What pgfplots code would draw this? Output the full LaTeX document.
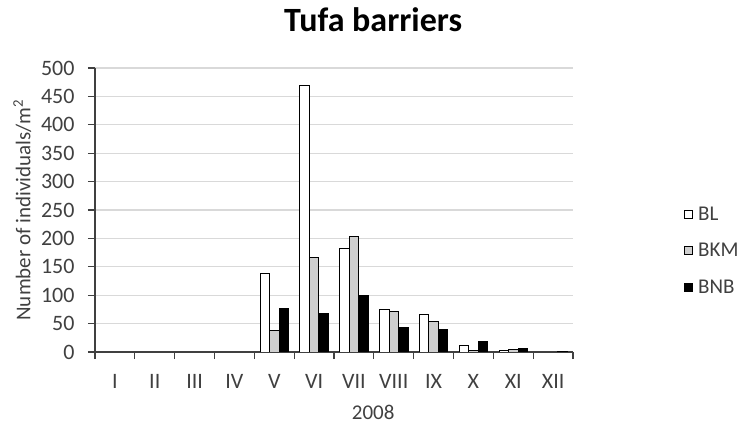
\documentclass[border=0pt]{standalone}
\usepackage{pgfplots}
\pgfplotsset{compat=1.18}
\usepackage{fontspec}
\setmainfont{Carlito}
\definecolor{txt}{HTML}{404040}
\definecolor{gridc}{HTML}{D9D9D9}
\definecolor{bkm}{HTML}{CFCFCF}
\begin{document}
\begin{tikzpicture}
\path[use as bounding box] (-95bp,-72bp) rectangle (649bp,352bp);
\begin{axis}[
  scale only axis,
  width=478bp, height=284bp,
  at={(0,0)}, anchor=south west,
  xmin=-0.5, xmax=11.5,
  ymin=0, ymax=500,
  ytick={0,50,...,500},
  xtick={-0.5,0.5,...,11.5},
  x tick label as interval,
  xticklabels={I,II,III,IV,V,VI,VII,VIII,IX,X,XI,XII},
  axis lines*=left,
  axis line style={draw=txt, line width=1.3pt},
  tick style={draw=txt, line width=1.1pt},
  major tick length=7bp,
  tick align=outside,
  ymajorgrids,
  grid style={draw=gridc, line width=1.3pt},
  /pgf/number format/assume math mode=true,
  ticklabel style={font=\fontsize{22bp}{26bp}\selectfont, text=txt},
  xticklabel style={yshift=-12bp},
  yticklabel style={xshift=-10bp},
  ybar=0pt,
  bar width=9.5bp,
  title={\textbf{Tufa barriers}},
  title style={font=\fontsize{34bp}{40bp}\selectfont, at={(axis description cs:0.582,1.148)}, anchor=center},
  xlabel={2008},
  xlabel style={font=\fontsize{21bp}{25bp}\selectfont, text=txt, at={(axis description cs:0.582,-0.212)}, anchor=center},
  ylabel={Number of individuals/m\textsuperscript{2}},
  ylabel style={font=\fontsize{21bp}{25bp}\selectfont, text=txt, at={(axis description cs:-0.152,0.5)}, anchor=center},
  legend style={draw=none, fill=none, font=\fontsize{21bp}{25bp}\selectfont, text=txt,
    at={(axis description cs:1.232,0.515)}, anchor=north west, inner sep=0pt,
    row sep=19.5bp, nodes={inner sep=1bp},
    /tikz/every odd column/.style={column sep=4bp}},
  legend cell align=left,
  legend image code/.code={\draw[#1, line width=1.1pt] (0bp,-4bp) rectangle (8bp,4bp);},
]
\addplot[draw=black, fill=white, line width=1pt] coordinates {(0,0) (1,0) (2,0) (3,0) (4,138) (5,470) (6,183) (7,75) (8,66) (9,12) (10,2) (11,0)};
\addplot[draw=black, fill=bkm, line width=1pt] coordinates {(0,0) (1,0) (2,0) (3,0) (4,37) (5,166) (6,203) (7,72) (8,54) (9,3) (10,5) (11,0)};
\addplot[draw=black, fill=black, line width=1pt] coordinates {(0,0) (1,0) (2,0) (3,0) (4,76) (5,67) (6,100) (7,43) (8,39) (9,19) (10,7) (11,1)};
\legend{BL,BKM,BNB}
\end{axis}
\end{tikzpicture}
\end{document}
